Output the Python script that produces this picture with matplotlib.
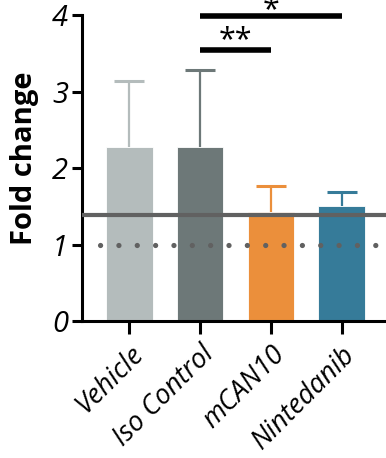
import matplotlib
matplotlib.use("Agg")
import matplotlib.pyplot as plt

categories = ["Vehicle", "Iso Control", "mCAN10", "Nintedanib"]
means = [2.27, 2.27, 1.43, 1.51]
upper_err = [0.87, 1.01, 0.34, 0.18]
colors = ["#B4BCBC", "#6D7878", "#EB8F3B", "#367B99"]
ref_solid = 1.39
ref_dotted = 1.0
yticks = [0, 1, 2, 3, 4]
sig_pairs = [(1, 2, 3.55, "**"), (1, 3, 3.99, "*")]

plt.rcParams['lines.scale_dashes'] = False
fig = plt.figure(figsize=(3.86, 4.58), dpi=100)
ax = fig.add_axes([0.2124, 0.299, 0.788, 0.668])

x = list(range(len(categories)))
ax.bar(x, means, width=0.66, color=colors, edgecolor="white", linewidth=0.6, zorder=2)
for xi, m, e, c in zip(x, means, upper_err, colors):
    ax.vlines(xi, m, m + e, color=c, lw=1.6, zorder=1)
    ax.plot([xi], [m + e], marker="_", markersize=22, markeredgewidth=2.2, color=c, zorder=1)

ax.axhline(ref_solid, color="#616161", lw=3, zorder=3)
ax.axhline(ref_dotted, color="#616161", lw=3.8, linestyle=(0.2, (0.01, 13.2)),
           dash_capstyle="round", zorder=3)

offsets = {"**": -0.07, "*": -0.12}
for a, b, yv, s in sig_pairs:
    ax.plot([a, b], [yv, yv], color="black", lw=4, solid_capstyle="butt", clip_on=False, zorder=4)
    ax.text((a + b) / 2, yv + offsets[s], s, ha="center", va="bottom", fontsize=22,
            family="Open Sans", clip_on=False)

ax.set_xlim(-0.67, 3.63)
ax.set_ylim(0, 4)
ax.set_yticks(yticks)
ax.set_yticklabels([str(t) for t in yticks], fontsize=21, style="italic", family="Open Sans")
ax.set_xticks(x)
ax.set_xticklabels(categories, rotation=45, ha="right", rotation_mode="anchor",
                   fontsize=19.5, style="italic", family="Open Sans")
ax.set_ylabel("Fold change", fontsize=21, fontweight="bold", family="Open Sans")
ax.yaxis.set_label_coords(-0.14, 0.533)

for s in ["top", "right"]:
    ax.spines[s].set_visible(False)
for s in ["left", "bottom"]:
    ax.spines[s].set_linewidth(2.2)
ax.tick_params(axis="y", width=2.2, length=7, pad=3)
ax.tick_params(axis="x", width=2.2, length=9, pad=5)

fig.savefig("out.png", dpi=100)
